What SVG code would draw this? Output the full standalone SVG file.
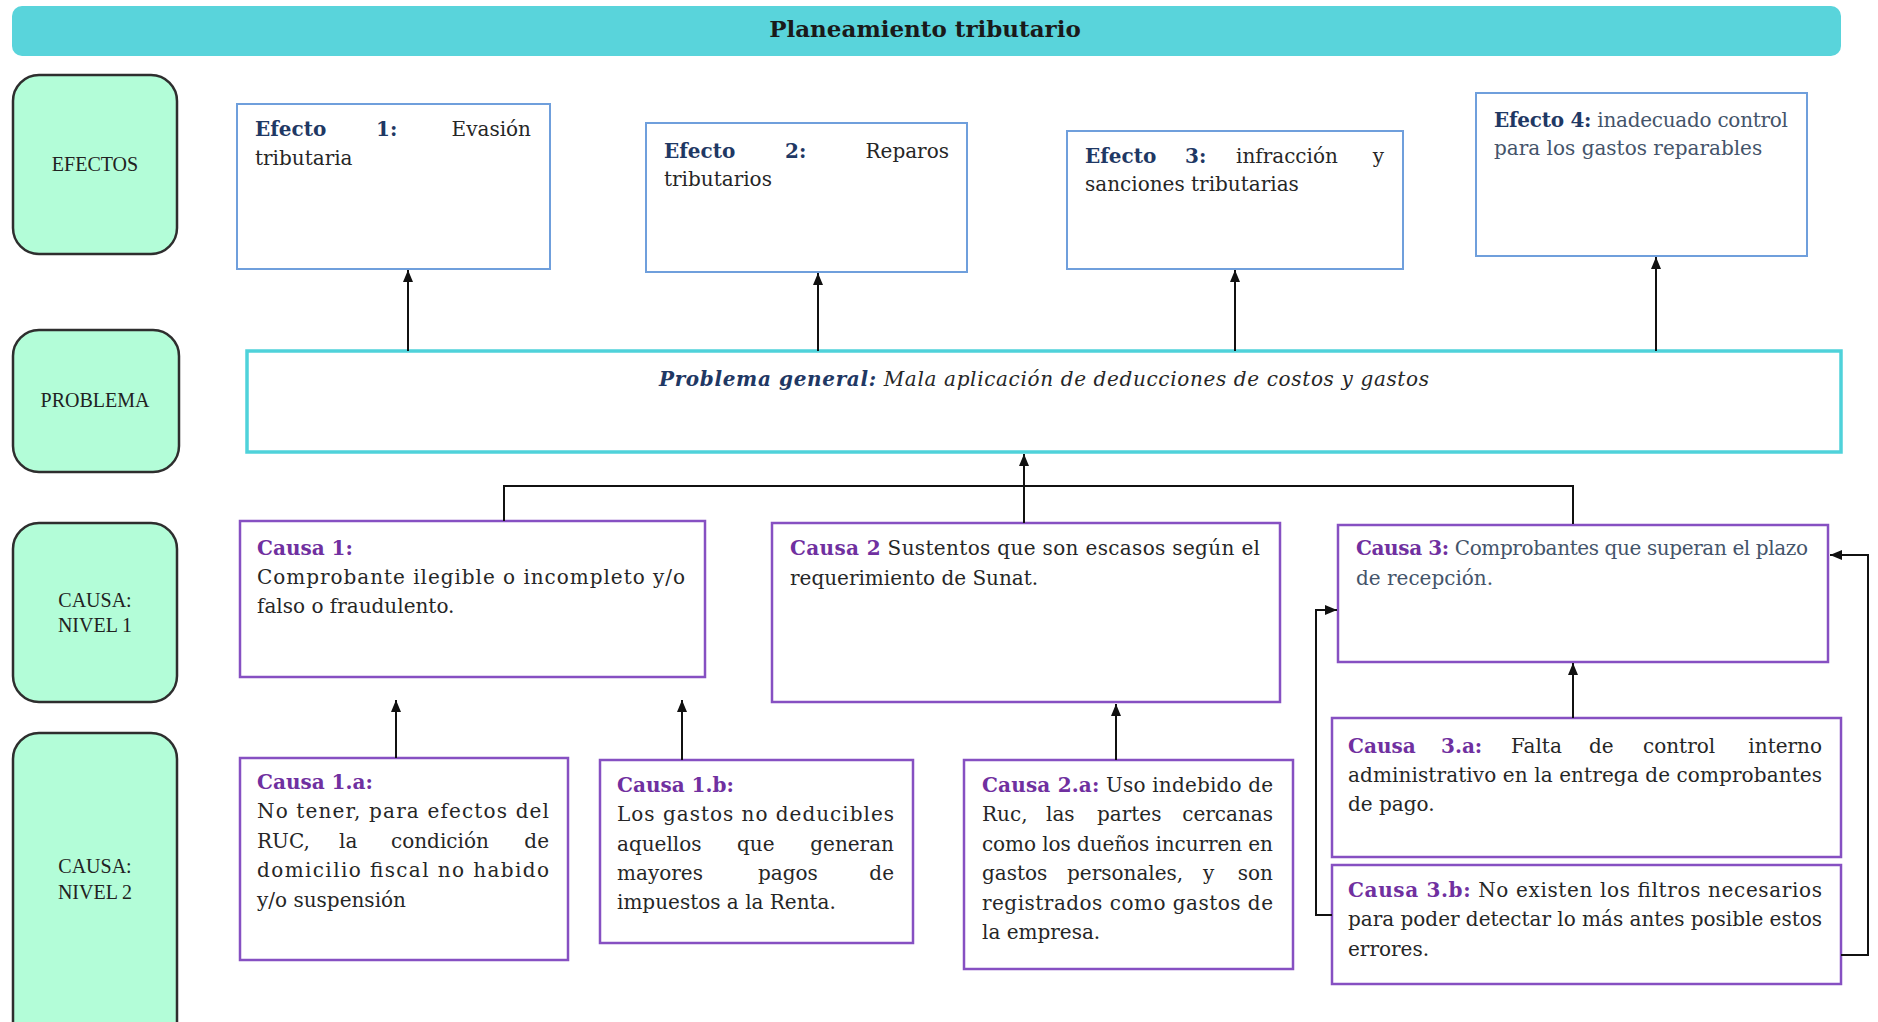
<svg xmlns="http://www.w3.org/2000/svg" width="1878" height="1022" viewBox="0 0 1878 1022">
<defs>
<marker id="arr" viewBox="0 0 12 10" markerWidth="12" markerHeight="10" refX="12" refY="5" orient="auto" markerUnits="userSpaceOnUse">
<path d="M0,0 L12,5 L0,10 z" fill="#111"/>
</marker>
</defs>
<style>
.lblbox{fill:#B3FDD8;stroke:#2E2E2E;stroke-width:2.5}
.lbl{font-family:"Liberation Serif",serif;font-size:20px;fill:#222;text-anchor:middle}
.efbox{fill:#fff;stroke:#6F9FDC;stroke-width:2}
.cbox{fill:#fff;stroke:#8650C2;stroke-width:2.5}
.pbox{fill:#fff;stroke:#4FD2DA;stroke-width:3.5}
.t{font-family:"DejaVu Serif",serif;font-size:20px;fill:#262626}
.nv{fill:#1F3864;font-weight:bold}
.pu{fill:#7030A0;font-weight:bold}
.sl{fill:#44546A}
.end{text-anchor:end}
.con{fill:none;stroke:#111;stroke-width:2}
</style>

<g id="title">
<rect x="12" y="6" width="1829" height="50" rx="10" fill="#59D4DB"/>
<text x="925" y="37" font-family="DejaVu Serif, serif" font-size="23" font-weight="bold" fill="#1a1a1a" text-anchor="middle">Planeamiento tributario</text>
</g>

<g id="lbl-efectos">
<rect class="lblbox" x="13" y="75" width="164" height="179" rx="26"/>
<text class="lbl" x="95" y="171">EFECTOS</text>
</g>
<g id="lbl-problema">
<rect class="lblbox" x="13" y="330" width="166" height="142" rx="26"/>
<text class="lbl" x="95" y="407">PROBLEMA</text>
</g>
<g id="lbl-causa1">
<rect class="lblbox" x="13" y="523" width="164" height="179" rx="26"/>
<text class="lbl" x="95" y="607">CAUSA:</text>
<text class="lbl" x="95" y="632">NIVEL 1</text>
</g>
<g id="lbl-causa2">
<rect class="lblbox" x="13" y="733" width="164" height="320" rx="26"/>
<text class="lbl" x="95" y="873">CAUSA:</text>
<text class="lbl" x="95" y="899">NIVEL 2</text>
</g>

<g id="efecto1">
<rect class="efbox" x="237" y="104" width="313" height="165"/>
<text class="t nv" x="255" y="136">Efecto</text>
<text class="t nv" x="376" y="136">1:</text>
<text class="t end" x="531" y="136">Evasión</text>
<text class="t" x="255" y="165">tributaria</text>
</g>
<g id="efecto2">
<rect class="efbox" x="646" y="123" width="321" height="149"/>
<text class="t nv" x="664" y="158">Efecto</text>
<text class="t nv" x="785" y="158">2:</text>
<text class="t end" x="949" y="158">Reparos</text>
<text class="t" x="664" y="186">tributarios</text>
</g>
<g id="efecto3">
<rect class="efbox" x="1067" y="131" width="336" height="138"/>
<text class="t nv" x="1085" y="163">Efecto</text>
<text class="t nv" x="1185" y="163">3:</text>
<text class="t" x="1236" y="163">infracción</text>
<text class="t end" x="1384" y="163">y</text>
<text class="t" x="1085" y="191">sanciones tributarias</text>
</g>
<g id="efecto4">
<rect class="efbox" x="1476" y="93" width="331" height="163"/>
<text class="t" x="1494" y="127" textLength="294" lengthAdjust="spacing"><tspan class="nv">Efecto 4:</tspan><tspan class="sl"> inadecuado control</tspan></text>
<text class="t sl" x="1494" y="155">para los gastos reparables</text>
</g>

<g id="problema">
<rect class="pbox" x="247" y="351" width="1594" height="101"/>
<text class="t" x="659" y="386" font-style="italic" textLength="770" lengthAdjust="spacing"><tspan class="nv">Problema general:</tspan> Mala aplicación de deducciones de costos y gastos</text>
</g>

<g id="causa1">
<rect class="cbox" x="240" y="521" width="465" height="156"/>
<text class="t pu" x="257" y="555">Causa 1:</text>
<text class="t" x="257" y="584" textLength="428" lengthAdjust="spacing">Comprobante ilegible o incompleto y/o</text>
<text class="t" x="257" y="613">falso o fraudulento.</text>
</g>
<g id="causa2">
<rect class="cbox" x="772" y="523" width="508" height="179"/>
<text class="t" x="790" y="555" textLength="470" lengthAdjust="spacing"><tspan class="pu">Causa 2</tspan> Sustentos que son escasos según el</text>
<text class="t" x="790" y="585">requerimiento de Sunat.</text>
</g>
<g id="causa3">
<rect class="cbox" x="1338" y="525" width="490" height="137"/>
<text class="t" x="1356" y="555" textLength="452" lengthAdjust="spacing"><tspan class="pu">Causa 3:</tspan><tspan class="sl"> Comprobantes que superan el plazo</tspan></text>
<text class="t sl" x="1356" y="585">de recepción.</text>
</g>

<g id="causa1a">
<rect class="cbox" x="240" y="758" width="328" height="202"/>
<text class="t pu" x="257" y="789">Causa 1.a:</text>
<text class="t" x="257" y="818" textLength="292" lengthAdjust="spacing">No tener, para efectos del</text>
<text class="t" x="257" y="848">RUC,</text>
<text class="t" x="339" y="848">la</text>
<text class="t" x="391" y="848">condición</text>
<text class="t end" x="549" y="848">de</text>
<text class="t" x="257" y="877" textLength="292" lengthAdjust="spacing">domicilio fiscal no habido</text>
<text class="t" x="257" y="907">y/o suspensión</text>
</g>
<g id="causa1b">
<rect class="cbox" x="600" y="760" width="313" height="183"/>
<text class="t pu" x="617" y="792">Causa 1.b:</text>
<text class="t" x="617" y="821" textLength="277" lengthAdjust="spacing">Los gastos no deducibles</text>
<text class="t" x="617" y="851">aquellos</text>
<text class="t" x="737" y="851">que</text>
<text class="t end" x="894" y="851">generan</text>
<text class="t" x="617" y="880">mayores</text>
<text class="t" x="758" y="880">pagos</text>
<text class="t end" x="894" y="880">de</text>
<text class="t" x="617" y="909">impuestos a la Renta.</text>
</g>
<g id="causa2a">
<rect class="cbox" x="964" y="760" width="329" height="209"/>
<text class="t" x="982" y="792" textLength="291" lengthAdjust="spacing"><tspan class="pu">Causa 2.a:</tspan> Uso indebido de</text>
<text class="t" x="982" y="821">Ruc,</text>
<text class="t" x="1046" y="821">las</text>
<text class="t" x="1097" y="821">partes</text>
<text class="t end" x="1273" y="821">cercanas</text>
<text class="t" x="982" y="851" textLength="291" lengthAdjust="spacing">como los dueños incurren en</text>
<text class="t" x="982" y="880">gastos</text>
<text class="t" x="1067" y="880">personales,</text>
<text class="t" x="1203" y="880">y</text>
<text class="t end" x="1273" y="880">son</text>
<text class="t" x="982" y="910" textLength="291" lengthAdjust="spacing">registrados como gastos de</text>
<text class="t" x="982" y="939">la empresa.</text>
</g>
<g id="causa3a">
<rect class="cbox" x="1332" y="718" width="509" height="139"/>
<text class="t pu" x="1348" y="753">Causa</text>
<text class="t pu" x="1441" y="753">3.a:</text>
<text class="t" x="1511" y="753">Falta</text>
<text class="t" x="1589" y="753">de</text>
<text class="t" x="1643" y="753">control</text>
<text class="t end" x="1822" y="753">interno</text>
<text class="t" x="1348" y="782" textLength="474" lengthAdjust="spacing">administrativo en la entrega de comprobantes</text>
<text class="t" x="1348" y="811">de pago.</text>
</g>
<g id="causa3b">
<rect class="cbox" x="1332" y="865" width="509" height="119"/>
<text class="t" x="1348" y="897" textLength="474" lengthAdjust="spacing"><tspan class="pu">Causa 3.b:</tspan> No existen los filtros necesarios</text>
<text class="t" x="1348" y="926" textLength="474" lengthAdjust="spacing">para poder detectar lo más antes posible estos</text>
<text class="t" x="1348" y="956">errores.</text>
</g>

<g id="connectors">
<path class="con" d="M408,351 V270" marker-end="url(#arr)"/>
<path class="con" d="M818,351 V273" marker-end="url(#arr)"/>
<path class="con" d="M1235,351 V270" marker-end="url(#arr)"/>
<path class="con" d="M1656,351 V257" marker-end="url(#arr)"/>
<path class="con" d="M504,521 V486 H1573 V524"/>
<path class="con" d="M1024,523 V454" stroke-width="3" marker-end="url(#arr)"/>
<path class="con" d="M396,758 V700" marker-end="url(#arr)"/>
<path class="con" d="M682,760 V700" marker-end="url(#arr)"/>
<path class="con" d="M1116,760 V704" marker-end="url(#arr)"/>
<path class="con" d="M1573,718 V663" marker-end="url(#arr)"/>
<path class="con" d="M1332,915 H1316 V610 H1337" marker-end="url(#arr)"/>
<path class="con" d="M1841,955 H1868 V555 H1830" marker-end="url(#arr)"/>
</g>
</svg>
